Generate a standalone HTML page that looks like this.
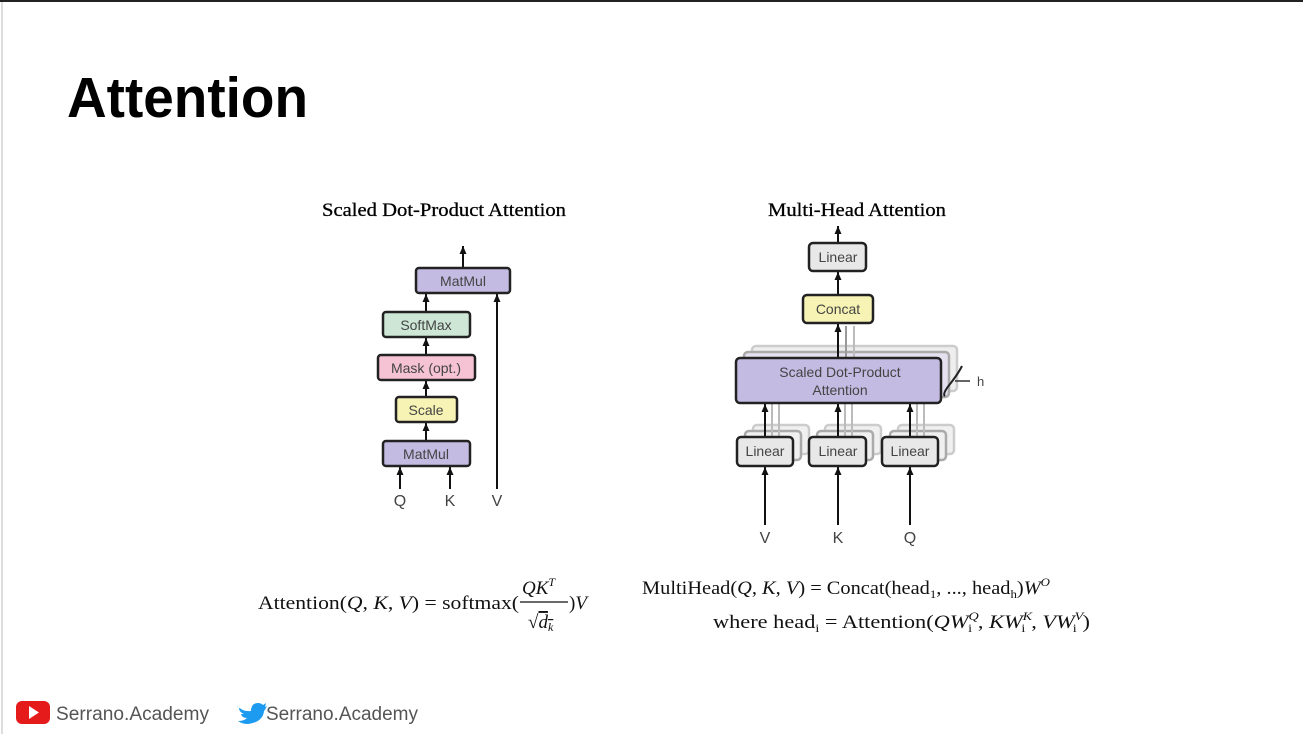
<!DOCTYPE html>
<html><head><meta charset="utf-8"><style>
html,body{margin:0;padding:0;background:#fff;}
svg{display:block;}
.s{font-family:"Liberation Sans",sans-serif;}
.r{font-family:"Liberation Serif",serif;}
</style></head><body>
<svg width="1303" height="734" viewBox="0 0 1303 734" xmlns="http://www.w3.org/2000/svg">
<defs>
<marker id="a" markerWidth="9" markerHeight="8" refX="8" refY="4" orient="auto" markerUnits="userSpaceOnUse"><path d="M0,0.5 L8,4 L0,7.5 Z" fill="#111"/></marker>
</defs>
<rect width="1303" height="734" fill="#fff"/>
<rect x="0" y="0" width="1303" height="2" fill="#222"/>
<rect x="1" y="2" width="2" height="732" fill="#ddd"/>
<text x="67" y="117" class="s" font-size="57" font-weight="bold" textLength="241" lengthAdjust="spacingAndGlyphs">Attention</text>

<!-- left diagram -->
<text x="322" y="216" class="r" font-size="19" textLength="244" lengthAdjust="spacingAndGlyphs" stroke="#000" stroke-width="0.3">Scaled Dot-Product Attention</text>
<g stroke="#111" stroke-width="2" fill="none">
<line x1="463" y1="268" x2="463" y2="246" marker-end="url(#a)"/>
<line x1="426" y1="312" x2="426" y2="294" marker-end="url(#a)"/>
<line x1="426" y1="355" x2="426" y2="338" marker-end="url(#a)"/>
<line x1="426" y1="397" x2="426" y2="381" marker-end="url(#a)"/>
<line x1="426" y1="441" x2="426" y2="423" marker-end="url(#a)"/>
<line x1="400" y1="489" x2="400" y2="467" marker-end="url(#a)"/>
<line x1="450" y1="489" x2="450" y2="467" marker-end="url(#a)"/>
<line x1="497" y1="489" x2="497" y2="294" marker-end="url(#a)"/>
</g>
<g stroke="#222" stroke-width="2.5">
<rect x="416" y="268" width="94" height="25" rx="3" fill="#c3bbe2"/>
<rect x="383" y="312" width="87" height="25" rx="3" fill="#cde6d6"/>
<rect x="378" y="355" width="97" height="25" rx="3" fill="#f5c3d4"/>
<rect x="396" y="397" width="61" height="25" rx="3" fill="#f6f3b4"/>
<rect x="383" y="441" width="87" height="25" rx="3" fill="#c3bbe2"/>
</g>
<g class="s" font-size="14" fill="#444" text-anchor="middle">
<text x="463" y="286">MatMul</text>
<text x="426" y="330">SoftMax</text>
<text x="426" y="373">Mask (opt.)</text>
<text x="426" y="415">Scale</text>
<text x="426" y="459">MatMul</text>
<text x="400" y="506" font-size="16">Q</text>
<text x="450" y="506" font-size="16">K</text>
<text x="497" y="506" font-size="16">V</text>
</g>

<!-- right diagram -->
<text x="768" y="216" class="r" font-size="19" textLength="178" lengthAdjust="spacingAndGlyphs" stroke="#000" stroke-width="0.3">Multi-Head Attention</text>
<g stroke="#ccc" stroke-width="2.5" fill="#f0f0f0">
<rect x="752" y="346" width="205" height="45" rx="4" fill="#eeeeee"/>
<rect x="744" y="352" width="205" height="45" rx="4" fill="#e4e0f0" stroke="#aaa"/>
<rect x="753" y="425" width="56" height="29" rx="4"/>
<rect x="825" y="425" width="56" height="29" rx="4"/>
<rect x="898" y="425" width="56" height="29" rx="4"/>
<rect x="745" y="431" width="56" height="29" rx="4" stroke="#aaa"/>
<rect x="817" y="431" width="56" height="29" rx="4" stroke="#aaa"/>
<rect x="890" y="431" width="56" height="29" rx="4" stroke="#aaa"/>
</g>
<g stroke="#bbb" stroke-width="2" fill="none">
<line x1="772" y1="437" x2="772" y2="404"/><line x1="779" y1="437" x2="779" y2="404"/>
<line x1="845" y1="437" x2="845" y2="404"/><line x1="852" y1="437" x2="852" y2="404"/>
<line x1="917" y1="437" x2="917" y2="404"/><line x1="924" y1="437" x2="924" y2="404"/>
<line x1="846" y1="358" x2="846" y2="326" stroke="#999"/><line x1="854" y1="358" x2="854" y2="326"/>
</g>
<g stroke="#111" stroke-width="2" fill="none">
<line x1="838" y1="243" x2="838" y2="226" marker-end="url(#a)"/>
<line x1="838" y1="295" x2="838" y2="272" marker-end="url(#a)"/>
<line x1="838" y1="358" x2="838" y2="324" marker-end="url(#a)"/>
<line x1="765" y1="437" x2="765" y2="404" marker-end="url(#a)"/>
<line x1="838" y1="437" x2="838" y2="404" marker-end="url(#a)"/>
<line x1="910" y1="437" x2="910" y2="404" marker-end="url(#a)"/>
<line x1="765" y1="525" x2="765" y2="467" marker-end="url(#a)"/>
<line x1="838" y1="525" x2="838" y2="467" marker-end="url(#a)"/>
<line x1="910" y1="525" x2="910" y2="467" marker-end="url(#a)"/>
</g>
<g stroke="#222" stroke-width="2.5">
<rect x="809" y="243" width="57" height="28" rx="4" fill="#e8e8e8"/>
<rect x="803" y="295" width="70" height="28" rx="4" fill="#f6f3b4"/>
<rect x="736" y="358" width="205" height="45" rx="4" fill="#c3bbe2"/>
<rect x="737" y="437" width="56" height="29" rx="4" fill="#e8e8e8"/>
<rect x="809" y="437" width="57" height="29" rx="4" fill="#e8e8e8"/>
<rect x="882" y="437" width="56" height="29" rx="4" fill="#e8e8e8"/>
</g>
<path d="M962,366 Q958,374 950,384 Q942,394 945,396" stroke="#222" stroke-width="2" fill="none"/>
<line x1="955" y1="381" x2="970" y2="381" stroke="#333" stroke-width="1.5"/>
<g class="s" font-size="14" fill="#444" text-anchor="middle">
<text x="838" y="262">Linear</text>
<text x="838" y="314">Concat</text>
<text x="840" y="377">Scaled Dot-Product</text>
<text x="840" y="395">Attention</text>
<text x="765" y="456">Linear</text>
<text x="838" y="456">Linear</text>
<text x="910" y="456">Linear</text>
<text x="977" y="386" font-size="13" text-anchor="start">h</text>
<text x="765" y="543" font-size="16">V</text>
<text x="838" y="543" font-size="16">K</text>
<text x="910" y="543" font-size="16">Q</text>
</g>

<!-- formulas -->
<g class="r" font-size="19" fill="#111">
<text x="258" y="609" textLength="261" lengthAdjust="spacingAndGlyphs">Attention(<tspan font-style="italic">Q</tspan>, <tspan font-style="italic">K</tspan>, <tspan font-style="italic">V</tspan>) = softmax(</text>
<text x="522" y="594" font-style="italic">QK<tspan font-size="12" dy="-8">T</tspan></text>
<line x1="520" y1="602" x2="568" y2="602" stroke="#111" stroke-width="1.2"/>
<text x="528" y="628">√<tspan font-style="italic" text-decoration="overline">d<tspan font-size="12" dy="3">k</tspan></tspan></text>
<text x="569" y="609">)<tspan font-style="italic">V</tspan></text>
<text x="642" y="594" textLength="408" lengthAdjust="spacingAndGlyphs">MultiHead(<tspan font-style="italic">Q</tspan>, <tspan font-style="italic">K</tspan>, <tspan font-style="italic">V</tspan>) = Concat(head<tspan font-size="12" dy="4">1</tspan><tspan dy="-4">, ..., head</tspan><tspan font-size="12" dy="4">h</tspan><tspan dy="-4">)</tspan><tspan font-style="italic">W</tspan><tspan font-size="12" dy="-8" font-style="italic">O</tspan></text>
<text x="713" y="628" textLength="377" lengthAdjust="spacingAndGlyphs">where head<tspan font-size="12" dy="4">i</tspan><tspan dy="-4"> = Attention(</tspan><tspan font-style="italic">QW</tspan><tspan font-size="12" dy="-8" font-style="italic">Q</tspan><tspan font-size="12" dx="-9" dy="12">i</tspan><tspan dy="-4" dx="5">, </tspan><tspan font-style="italic">KW</tspan><tspan font-size="12" dy="-8" font-style="italic">K</tspan><tspan font-size="12" dx="-9" dy="12">i</tspan><tspan dy="-4" dx="5">, </tspan><tspan font-style="italic">VW</tspan><tspan font-size="12" dy="-8" font-style="italic">V</tspan><tspan font-size="12" dx="-9" dy="12">i</tspan><tspan dy="-4" dx="5">)</tspan></text>
</g>

<!-- footer -->
<rect x="16" y="701" width="34" height="23" rx="6" fill="#e51b1b"/>
<path d="M29,706 L29,719 L39,712.5 Z" fill="#fff"/>
<text x="56" y="720" class="s" font-size="19" fill="#555" textLength="153" lengthAdjust="spacingAndGlyphs">Serrano.Academy</text>
<path d="M237,706 Q243,712 251,711 Q251,703 258,703 Q261,703 263,705 L266,703 L265,707 L267,706 Q265,710 264,711 Q263,722 248,724 Q242,724 238,721 Q244,721 247,718 Q242,718 241,714 L244,714 Q239,712 239,708 L242,709 Q237,707 237,706 Z" fill="#1d9bf0"/>
<text x="266" y="720" class="s" font-size="19" fill="#555" textLength="152" lengthAdjust="spacingAndGlyphs">Serrano.Academy</text>
</svg>
</body></html>
